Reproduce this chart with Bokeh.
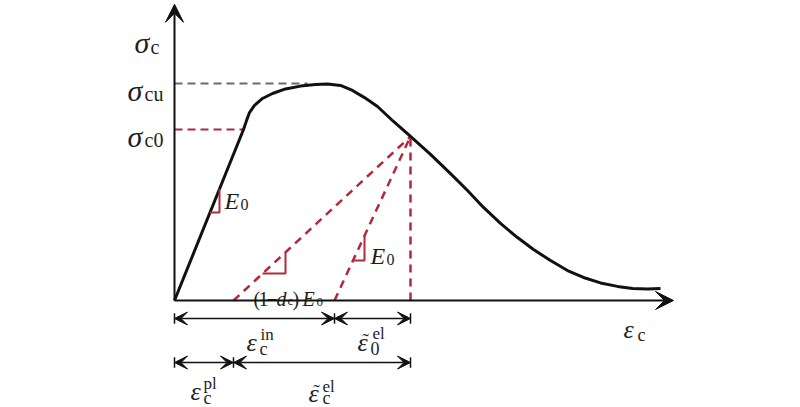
from bokeh.plotting import figure
from bokeh.models import Range1d, Arrow, VeeHead
from bokeh.core.properties import value
from bokeh.embed import file_html
from bokeh.resources import INLINE

# ---- data (strain in arbitrary units, stress normalised by sigma_cu) ----
strain = [0.0, 0.69, 0.72, 0.75, 0.80, 0.88, 0.98, 1.11, 1.26, 1.41, 1.53, 1.66,
          1.78, 1.90, 2.03, 2.19, 2.36, 2.56, 2.76, 2.93, 3.09, 3.26, 3.43, 3.59,
          3.76, 3.93, 4.09, 4.26, 4.43, 4.58, 4.73, 4.86]
stress = [0.0, 0.788, 0.829, 0.866, 0.899, 0.931, 0.954, 0.975, 0.988, 0.995, 0.998, 0.991,
          0.968, 0.935, 0.894, 0.825, 0.756, 0.673, 0.585, 0.507, 0.429, 0.355, 0.290, 0.235,
          0.184, 0.138, 0.106, 0.081, 0.065, 0.055, 0.053, 0.055]
sigma_c0 = 0.788
sigma_cu = 1.0
eps_c0 = 0.69
eps_cu_dash_end = 1.33
eps_unload = 2.36
sig_unload = 0.756
eps_pl = 0.59
eps_in = 1.60
eps_axis_end = 4.99
sig_axis_end = 1.365
dim_row1 = -0.083
dim_row2 = -0.286
tick_half = 0.024

# layout helpers: scale of the picture (px per unit) and origin position
SX, SY, OX, OY = 100.0, 217.0, 174.0, 300.0
def d(px, py):
    return ((px - OX) / SX, (OY - py) / SY)

W, H = 800, 407
p = figure(width=W, height=H, output_backend="svg", toolbar_location=None,
           x_range=Range1d((0 - OX) / SX, (W - OX) / SX),
           y_range=Range1d((OY - H) / SY, (OY - 0) / SY),
           x_axis_location=None, y_axis_location=None, min_border=0)
p.outline_line_color = None
p.grid.visible = False
p.background_fill_color = "white"
p.border_fill_color = "white"

BLACK = "#111111"
RED = "#b3283a"
GRAY = "#6b6b6b"

# axes with arrows
p.add_layout(Arrow(x_start=0, y_start=0, x_end=eps_axis_end, y_end=0, line_width=2,
                   line_color=BLACK,
                   end=VeeHead(size=18, fill_color=BLACK, line_color=BLACK)))
p.add_layout(Arrow(x_start=0, y_start=0, x_end=0, y_end=sig_axis_end, line_width=2,
                   line_color=BLACK,
                   end=VeeHead(size=18, fill_color=BLACK, line_color=BLACK)))

# dashed reference lines
p.line([0, eps_c0], [sigma_c0, sigma_c0], line_color=RED, line_width=2, line_dash="8 5")
p.line([0, eps_cu_dash_end], [sigma_cu, sigma_cu], line_color=GRAY, line_width=2, line_dash="8 5")
p.line([eps_pl, eps_unload], [0, sig_unload], line_color=RED, line_width=2.5, line_dash="8 6")
p.line([eps_in, eps_unload], [0, sig_unload], line_color=RED, line_width=2.5, line_dash="8 6")
p.line([eps_unload, eps_unload], [0, sig_unload], line_color=RED, line_width=2.5, line_dash="8 6")

# main curve
p.line(strain, stress, line_color=BLACK, line_width=3, line_join="round")

# slope triangles
E0 = sigma_c0 / eps_c0
Ed = sig_unload / (eps_unload - eps_pl)
Eu = sig_unload / (eps_unload - eps_in)
def tri(x0, slope, ev, sh):
    xs = [x0 + sh / slope, ev, ev]
    ys = [sh, sh, (ev - x0) * slope]
    p.line(xs, ys, line_color=RED, line_width=2)
tri(0.0, E0, 0.45, 0.406)
tri(eps_pl, Ed, 1.11, 0.124)
tri(eps_in, Eu, 1.90, 0.184)

# dimension arrows
def dim(x0, x1, y):
    p.add_layout(Arrow(x_start=x0, y_start=y, x_end=x1, y_end=y, line_width=1.5,
                       line_color=BLACK,
                       start=VeeHead(size=13, fill_color=BLACK, line_color=BLACK),
                       end=VeeHead(size=13, fill_color=BLACK, line_color=BLACK)))
for xt in (0.0, eps_in, eps_unload):
    p.line([xt, xt], [dim_row1 - tick_half, dim_row1 + tick_half], line_color=BLACK, line_width=1.5)
for xt in (0.0, eps_pl, eps_unload):
    p.line([xt, xt], [dim_row2 - tick_half, dim_row2 + tick_half], line_color=BLACK, line_width=1.5)
dim(0.0, eps_in, dim_row1)
dim(eps_in, eps_unload, dim_row1)
dim(0.0, eps_pl, dim_row2)
dim(eps_pl, eps_unload, dim_row2)

# texts
FONT = value("Liberation Serif")
TXT = "#1e1e1e"
def label(items, size, style="normal", align="left"):
    xs, ys, ts = [], [], []
    for t, px, py in items:
        x, y = d(px, py)
        xs.append(x); ys.append(y); ts.append(t)
    p.text(xs, ys, text=ts, text_font=FONT, text_font_style=style, text_font_size=size,
           text_color=TXT, text_baseline="alphabetic", text_align=align)

label([("σ", 134, 42), ("σ", 127, 90), ("σ", 127, 136)], "30px", "italic")
label([("c", 150, 46), ("cu", 144, 93), ("c0", 144, 139)], "20px")
label([("E", 224, 200), ("E", 370, 255)], "24px", "italic")
label([("0", 240, 204), ("0", 386, 259)], "16px")
label([("ε", 623, 329), ("ε", 246, 342), ("ε", 357, 342), ("ε", 190, 391), ("ε", 308, 393)], "26px", "italic")
label([("c", 637, 334), ("c", 259, 348), ("0", 370, 348), ("c", 203, 397), ("c", 322, 397)], "18px")
label([("in", 260, 334), ("el", 372, 333), ("pl", 203, 383), ("el", 322, 386)], "17px")
label([("˜", 365, 340), ("˜", 316, 391)], "20px", "normal", "center")
label([("(", 253, 298), ("1", 258, 298), ("−", 266, 298), (")", 292, 298)], "20px")
label([("d", 276, 298), ("E", 302, 298)], "20px", "italic")
label([("c", 287, 300), ("0", 316, 301)], "13px")

open("out.html", "w").write(file_html(p, INLINE))
